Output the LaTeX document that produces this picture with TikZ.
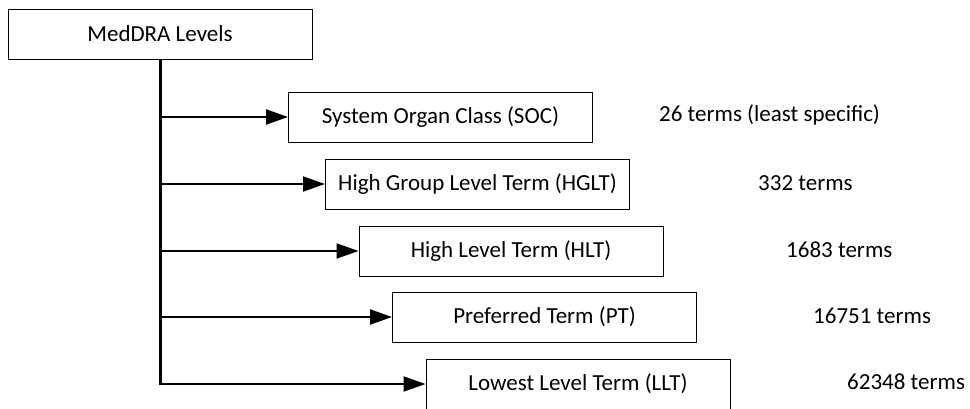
\documentclass[tikz,border=0pt]{standalone}
\usepackage{fontspec}
\setmainfont{Carlito}
\usetikzlibrary{arrows.meta}
\begin{document}
\begin{tikzpicture}[x=1pt,y=-1pt,
  lvl/.style={draw=black, line width=1pt, minimum width=304pt, minimum height=50pt, inner sep=0pt, font=\fontsize{23}{27}\selectfont},
  cnt/.style={anchor=west, inner sep=0pt, font=\fontsize{23}{27}\selectfont},
  arr/.style={line width=2pt, -{Triangle[length=22pt,width=15pt]}}]
\useasboundingbox (0,0) rectangle (970,408);
\node[lvl] (top) at (160,34) {MedDRA Levels};
\node[lvl] (soc) at (440.5,117) {System Organ Class (SOC)};
\node[lvl] (hglt) at (477.5,184) {High Group Level Term (HGLT)};
\node[lvl] (hlt) at (511,251) {High Level Term (HLT)};
\node[lvl] (pt) at (544.5,317) {Preferred Term (PT)};
\node[lvl] (llt) at (578,384) {Lowest Level Term (LLT)};
\node[cnt] (c1) at (659,115) {26 terms (least specific)};
\node[cnt] (c2) at (758,183) {332 terms};
\node[cnt] (c3) at (786,250) {1683 terms};
\node[cnt] (c4) at (813,316) {16751 terms};
\node[cnt] (c5) at (847,382) {62348 terms};
\draw[line width=3pt] (top.south) -- (top.south |- llt.west);
\draw[arr] (top.south |- soc.west) -- (soc.west);
\draw[arr] (top.south |- hglt.west) -- (hglt.west);
\draw[arr] (top.south |- hlt.west) -- (hlt.west);
\draw[arr] (top.south |- pt.west) -- (pt.west);
\draw[arr] ([xshift=-1.5pt]top.south |- llt.west) -- (llt.west);
\end{tikzpicture}
\end{document}
